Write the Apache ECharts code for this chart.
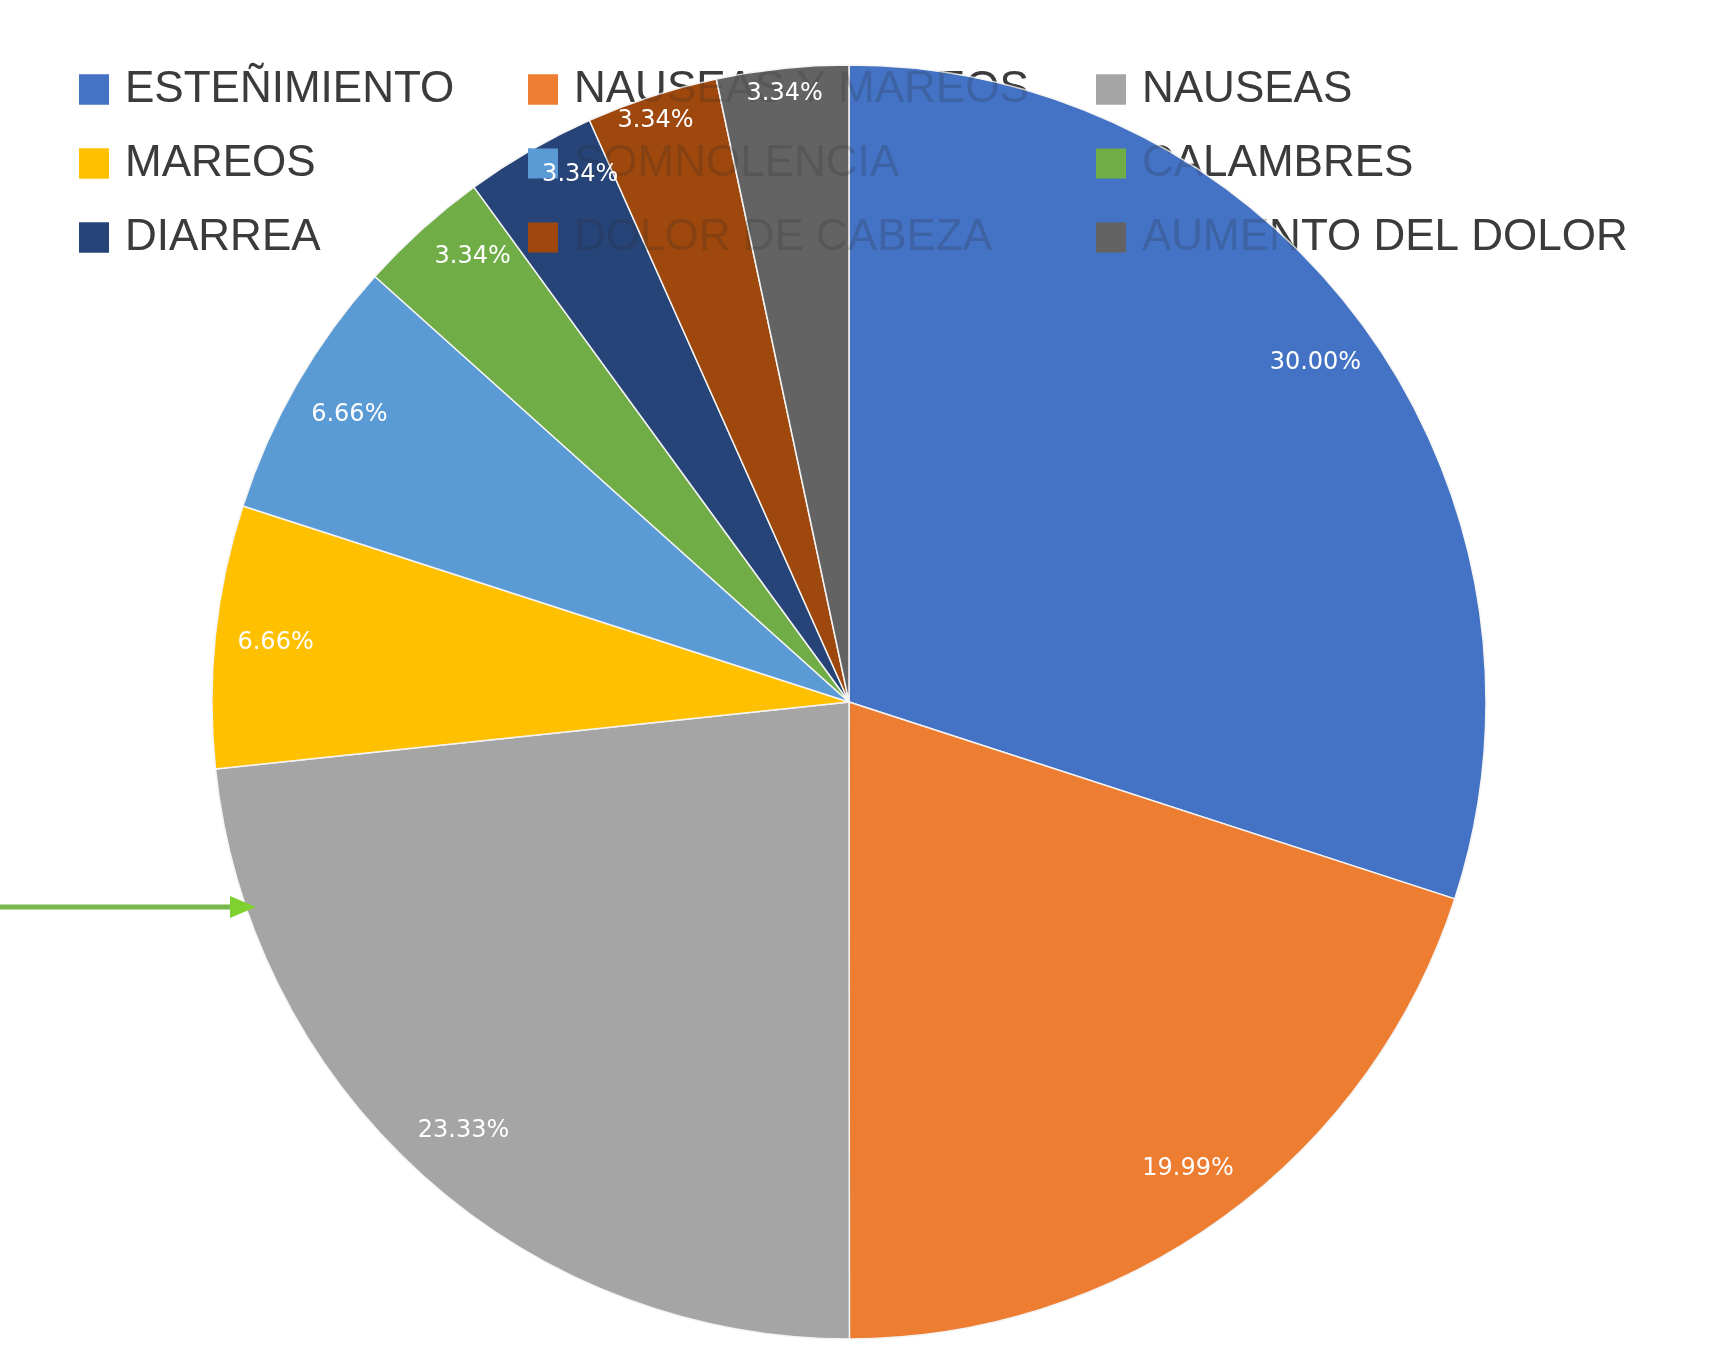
<!DOCTYPE html>
<html>
<head>
<meta charset="utf-8">
<script src="https://cdn.jsdelivr.net/npm/echarts@6/dist/echarts.min.js"></script>
<style>
html,body{margin:0;padding:0;background:#fff;}
#c{width:1714px;height:1346px;}
</style>
</head>
<body>
<div id="c"></div>
<script>
const categories = ['ESTEÑIMIENTO','NAUSEAS Y MAREOS','NAUSEAS','MAREOS','SOMNOLENCIA','CALAMBRES','DIARREA','DOLOR DE CABEZA','AUMENTO DEL DOLOR'];
const values = [30.00, 19.99, 23.33, 6.66, 6.66, 3.34, 3.34, 3.34, 3.34];
const colors = ['#4472C4','#ED7D31','#A5A5A5','#FFC000','#5B9BD5','#70AD47','#264478','#9E480E','#636363'];
const labelOffsets = [[0,0],[0,0],[0,0],[0,0],[0,0],[10,-17],[20,-28],[-15,-33],[-4,-35]];

const data = categories.map((n,i)=>({name:n, value:values[i]}));
const labelData = categories.map((n,i)=>({name:n, value:values[i], label:{offset:labelOffsets[i]}}));
function legendCol(names, left, z, textColor){
  return {
    orient:'vertical', left:left, top:67, z:z, padding:0,
    itemWidth:30, itemHeight:30, itemGap:29,
    icon:'rect', selectedMode:false, data:names,
    itemStyle:{borderWidth:0},
    textStyle:{fontFamily:'Liberation Sans', fontSize:44, color:textColor, lineHeight:45, padding:[0,0,0,11]}
  };
}
const cols = [[0,3,6],[1,4,7],[2,5,8]].map(c=>c.map(i=>categories[i]));
const lefts = [79, 528, 1096];
const legends = [];
cols.forEach((c,k)=>legends.push(legendCol(c, lefts[k], 1, '#404040')));
cols.forEach((c,k)=>legends.push(legendCol(c, lefts[k], 10, 'rgba(40,40,40,0.2)')));

const chart = echarts.init(document.getElementById('c'));
chart.setOption({
  color: colors,
  animation:false,
  legend: legends,
  graphic:[
    {type:'line', z:100, shape:{x1:0,y1:907,x2:236,y2:907}, style:{stroke:'#78B84C', lineWidth:5}},
    {type:'polygon', z:100, shape:{points:[[230,896],[256,907],[230,918]]}, style:{fill:'#7ED12E'}}
  ],
  series:[
    {
      type:'pie', z:3, center:[849,702], radius:[0,637], startAngle:90, clockwise:true,
      avoidLabelOverlap:false, silent:true,
      itemStyle:{borderColor:'#f4f4f4', borderWidth:1.5},
      label:{show:false}, labelLine:{show:false},
      data:data
    },
    {
      type:'pie', z:20, center:[849,702], radius:[510,637], startAngle:90, clockwise:true,
      avoidLabelOverlap:false, silent:true, legendHoverLink:false,
      itemStyle:{color:'transparent', borderWidth:0},
      label:{show:true, position:'inside', color:'#fff', fontFamily:'DejaVu Sans', fontSize:24,
        formatter:p=>values[p.dataIndex].toFixed(2)+'%'},
      labelLine:{show:false},
      data:labelData
    }
  ]
});
</script>
</body>
</html>
